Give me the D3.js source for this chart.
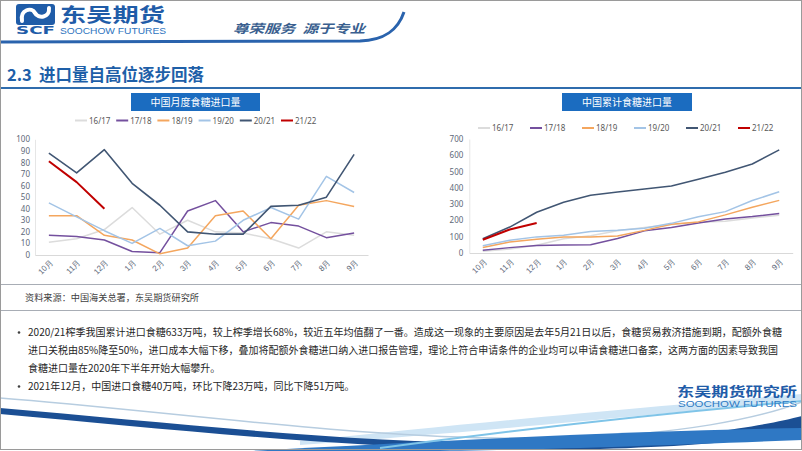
<!DOCTYPE html>
<html>
<head>
<meta charset="utf-8">
<script src="https://cdn.jsdelivr.net/npm/d3@7"></script>
<style>
  body { margin: 0; background: #fff; }
  svg { display: block; font-family: "Noto Sans CJK SC", "Noto Sans", sans-serif; }
</style>
</head>
<body>
<div id="slide"></div>
<script>
// ---- data ----
const months = ["10月", "11月", "12月", "1月", "2月", "3月", "4月", "5月", "6月", "7月", "8月", "9月"];
const seasons = ["16/17", "17/18", "18/19", "19/20", "20/21", "21/22"];

// monthly imports (万吨)
const monthly1617 = [11, 14, 22, 41, 18, 30, 20, 19, 14, 6, 20, 17];
const monthly1718 = [17, 16, 13, 3, 2, 38, 47, 20, 28, 25, 15, 19];
const monthly1819 = [34, 34, 17, 13, 1, 6, 34, 38, 14, 43, 47, 42];
const monthly1920 = [45, 33, 21, 10, 23, 8, 12, 30, 41, 31, 68, 54];
const monthly2021 = [88, 71, 91, 62, 43, 20, 18, 18, 42, 43, 50, 87];
const monthly2122 = [81, 63, 40];

// cumulative imports (万吨)
const cum1617 = [11, 25, 47, 88, 106, 136, 156, 175, 189, 195, 215, 232];
const cum1718 = [17, 33, 46, 49, 51, 89, 136, 156, 184, 209, 224, 243];
const cum1819 = [34, 68, 85, 98, 99, 105, 139, 177, 191, 234, 281, 323];
const cum1920 = [45, 78, 99, 109, 132, 140, 152, 182, 223, 254, 322, 376];
const cum2021 = [88, 159, 250, 312, 355, 375, 393, 411, 453, 496, 546, 633];
const cum2122 = [81, 144, 184];

const monthlyTicks = [0, 10, 20, 30, 40, 50, 60, 70, 80, 90, 100];
const cumTicks = [0, 100, 200, 300, 400, 500, 600, 700];

const sourceText = "资料来源：中国海关总署，东吴期货研究所";
const bulletLines = [
    "2020/21榨季我国累计进口食糖633万吨，较上榨季增长68%，较近五年均值翻了一番。造成这一现象的主要原因是去年5月21日以后，食糖贸易救济措施到期，配额外食糖",
    "进口关税由85%降至50%，进口成本大幅下移，叠加将配额外食糖进口纳入进口报告管理，理论上符合申请条件的企业均可以申请食糖进口备案，这两方面的因素导致我国",
    "食糖进口量在2020年下半年开始大幅攀升。",
    "2021年12月，中国进口食糖40万吨，环比下降23万吨，同比下降51万吨。"
];

// styles
const colors = ["#dcdcdc", "#74509e", "#f4a65e", "#a3c4e6", "#415673", "#c00000"];
const widths = [1.5, 1.5, 1.5, 1.5, 1.6, 2];

const svg = d3.select("#slide").append("svg")
    .attr("width", 802)
    .attr("height", 451);

svg.append("rect").attr("width", 802).attr("height", 451).attr("fill", "#fff");

// ---- header ----
let head = svg.append("g");
head.append("rect")
    .attr("x", 16).attr("y", 4).attr("width", 39).attr("height", 21).attr("rx", 3)
    .attr("fill", "#1f5ca8");
head.append("path")
    .attr("d", "M22,21 C20,9 32,7 35,13 C38,19 50,18 49,8")
    .attr("fill", "none").attr("stroke", "#fff").attr("stroke-width", 4).attr("stroke-linecap", "round");
head.append("text")
    .attr("x", 16).attr("y", 33.5)
    .attr("textLength", 39).attr("lengthAdjust", "spacingAndGlyphs")
    .style("font-size", "10px").style("font-weight", "bold").style("font-family", "DejaVu Sans")
    .attr("fill", "#1f5ca8").text("SCF");
head.append("text")
    .attr("x", 60).attr("y", 21.5)
    .attr("textLength", 105).attr("lengthAdjust", "spacingAndGlyphs")
    .style("font-size", "19px").style("font-weight", "bold")
    .attr("fill", "#1f5ca8").text("东吴期货");
head.append("text")
    .attr("x", 60).attr("y", 33.5)
    .attr("textLength", 106).attr("lengthAdjust", "spacingAndGlyphs")
    .style("font-size", "8.5px").style("font-family", "Liberation Sans")
    .attr("fill", "#2e74c0").text("SOOCHOW FUTURES");
head.append("text")
    .attr("x", 233).attr("y", 32.5)
    .attr("textLength", 132).attr("lengthAdjust", "spacingAndGlyphs")
    .style("font-size", "12px").style("font-weight", "bold").style("font-style", "italic")
    .style("white-space", "pre")
    .attr("fill", "#3a5f8f").text("尊荣服务  源于专业");
head.append("path")
    .attr("d", "M0,42 L360,41 C385,40 398,30 404,12")
    .attr("fill", "none").attr("stroke", "#2a63ad").attr("stroke-width", 3);

// ---- section title ----
svg.append("text")
    .attr("x", 7).attr("y", 81)
    .style("font-size", "16.5px").style("font-weight", "bold")
    .attr("fill", "#1e5fa8")
    .text("2.3");
svg.append("text")
    .attr("x", 39).attr("y", 81)
    .style("font-size", "16.5px").style("font-weight", "bold")
    .attr("fill", "#1e5fa8")
    .text("进口量自高位逐步回落");
svg.append("line")
    .attr("x1", 0).attr("x2", 802).attr("y1", 88).attr("y2", 88)
    .attr("stroke", "#2f6cad").attr("stroke-width", 2);

// ---- charts ----
function drawChart(cfg) {
    let g = svg.append("g");

    let x = d3.scalePoint()
        .domain(months)
        .range([cfg.left, cfg.right])
        .padding(0.5);
    let y = d3.scaleLinear()
        .domain([0, cfg.ticks[cfg.ticks.length - 1]])
        .range([cfg.bottom, cfg.top]);

    // title box
    g.append("rect")
        .attr("x", cfg.boxX).attr("y", 93).attr("width", cfg.boxW).attr("height", 18)
        .attr("fill", "#1b6cc0");
    g.append("text")
        .attr("x", cfg.boxX + cfg.boxW / 2).attr("y", 105.5)
        .attr("text-anchor", "middle")
        .style("font-size", "10px")
        .attr("fill", "#fff")
        .text(cfg.title);

    // legend
    seasons.forEach(function(s, i) {
        let lx = cfg.legX + i * cfg.legStep;
        g.append("line")
            .attr("x1", lx).attr("x2", lx + 12)
            .attr("y1", cfg.legY).attr("y2", cfg.legY)
            .attr("stroke", colors[i]).attr("stroke-width", 2);
        g.append("text")
            .attr("x", lx + 14).attr("y", cfg.legY + 3)
            .style("font-size", "8px").style("font-family", "Noto Sans")
            .attr("fill", "#595959")
            .text(s);
    });

    // y axis
    let ya = g.append("g")
        .attr("transform", "translate(" + cfg.left + ",0)")
        .call(d3.axisLeft(y).tickValues(cfg.ticks).tickSize(0).tickPadding(cfg.pad).tickSizeOuter(0));
    ya.select(".domain").attr("stroke", "#e6e6e6");
    ya.selectAll("text")
        .attr("fill", "#5d6878")
        .style("font-size", "8px")
        .style("font-family", "Noto Sans");

    // x axis
    let xa = g.append("g")
        .attr("transform", "translate(0," + cfg.bottom + ")")
        .call(d3.axisBottom(x).tickSize(0).tickSizeOuter(0));
    xa.select(".domain").attr("stroke", "#d9d9d9");
    xa.selectAll("text")
        .attr("x", 0).attr("y", 0).attr("dy", null)
        .attr("transform", "translate(4," + cfg.labOff + ") rotate(-45)")
        .style("text-anchor", "end")
        .style("font-size", "8px")
        .attr("fill", "#5d6878");

    // series lines
    let line = d3.line()
        .x((d, i) => x(months[i]))
        .y(d => y(d));

    cfg.series.forEach(function(vals, i) {
        g.append("path")
            .datum(vals)
            .attr("fill", "none")
            .attr("stroke", colors[i])
            .attr("stroke-width", widths[i])
            .attr("stroke-linejoin", "round")
            .attr("d", line);
    });
}

drawChart({
    title: "中国月度食糖进口量",
    boxX: 131, boxW: 129,
    left: 35, right: 368, top: 139.3, bottom: 255,
    ticks: monthlyTicks, pad: 5, labOff: 8,
    legX: 75, legStep: 41.2, legY: 120.5,
    series: [monthly1617, monthly1718, monthly1819, monthly1920, monthly2021, monthly2122]
});

drawChart({
    title: "中国累计食糖进口量",
    boxX: 562, boxW: 130,
    left: 469.3, right: 792.7, top: 139, bottom: 253,
    ticks: cumTicks, pad: 6, labOff: 9,
    legX: 478, legStep: 52, legY: 128,
    series: [cum1617, cum1718, cum1819, cum1920, cum2021, cum2122]
});

// ---- source box ----
svg.append("line").attr("x1", 0).attr("x2", 802).attr("y1", 284.5).attr("y2", 284.5)
    .attr("stroke", "#a8adb5").attr("stroke-width", 1);
svg.append("line").attr("x1", 0).attr("x2", 802).attr("y1", 310.5).attr("y2", 310.5)
    .attr("stroke", "#a8adb5").attr("stroke-width", 1);
svg.append("text")
    .attr("x", 25).attr("y", 300.5)
    .attr("textLength", 174).attr("lengthAdjust", "spacingAndGlyphs")
    .style("font-size", "9px")
    .attr("fill", "#404040")
    .text(sourceText);

// ---- bullets ----
const lineY = [336, 354, 372, 390];
const lineLen = [754, 750, null, null];
bulletLines.forEach(function(t, i) {
    let tx = svg.append("text")
        .attr("x", 28).attr("y", lineY[i])
        .style("font-size", "10px")
        .attr("fill", "#262626")
        .text(t);
    if (lineLen[i]) tx.attr("textLength", lineLen[i]).attr("lengthAdjust", "spacingAndGlyphs");
});
[0, 3].forEach(function(i) {
    svg.append("circle").attr("cx", 19).attr("cy", lineY[i] - 3.5).attr("r", 1.3).attr("fill", "#404040");
});

// ---- footer ----
let foot = svg.append("g");
foot.append("path")
    .attr("d", "M300,441 C500,420 680,404 802,394 L802,400 C680,412 500,430 300,445 Z")
    .attr("fill", "#cfe5f5");
foot.append("path")
    .attr("d", "M0,398 C180,412 380,442 560,438 C680,435 760,418 802,402")
    .attr("fill", "none").attr("stroke", "#b7cde0").attr("stroke-width", 1.5);
foot.append("path")
    .attr("d", "M0,408 C200,425 420,452 620,440 C720,434 770,424 802,416 L802,432 C760,440 700,446 600,449 C400,455 180,430 0,414 Z")
    .attr("fill", "#1b4f94");
foot.append("path")
    .attr("d", "M250,451 C450,440 650,430 802,428 L802,440 C650,446 500,451 420,451 Z")
    .attr("fill", "#2f78c4");
foot.append("path")
    .attr("d", "M380,448 C550,425 700,410 802,401")
    .attr("fill", "none").attr("stroke", "#7fc4e8").attr("stroke-width", 2);
foot.append("text")
    .attr("x", 677).attr("y", 396)
    .attr("textLength", 120).attr("lengthAdjust", "spacingAndGlyphs")
    .style("font-size", "13px").style("font-weight", "bold")
    .attr("fill", "#1f5ca8").text("东吴期货研究所");
foot.append("text")
    .attr("x", 678).attr("y", 406.5)
    .attr("textLength", 119).attr("lengthAdjust", "spacingAndGlyphs")
    .style("font-size", "8.5px").style("font-family", "Liberation Sans")
    .attr("fill", "#2e7bc4").text("SOOCHOW FUTURES");

// slide frame
svg.append("rect")
    .attr("x", 0.5).attr("y", 0.5).attr("width", 801).attr("height", 449)
    .attr("fill", "none").attr("stroke", "#9a9a9a").attr("stroke-width", 1);
</script>
</body>
</html>
